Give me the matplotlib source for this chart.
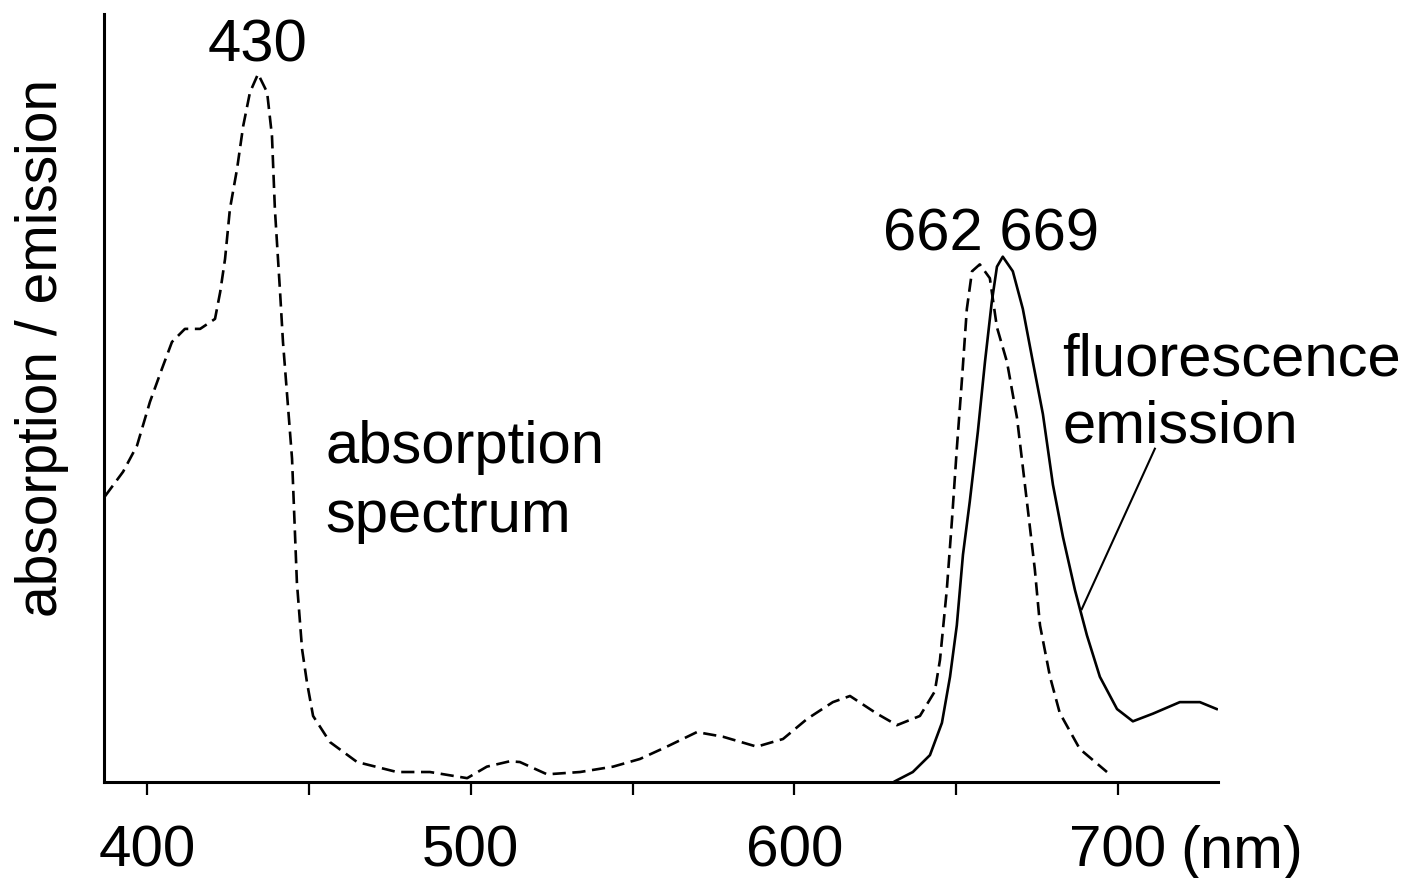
import matplotlib
matplotlib.use("Agg")
import matplotlib.pyplot as plt

# Absorption spectrum (wavelength nm, relative intensity 0-100)
abs_wl = [387.0, 392.6, 396.9, 400.9, 404.6, 407.7, 411.7, 416.4, 421.0, 422.6,
          424.1, 425.6, 427.8, 429.7, 431.8, 434.3, 437.1, 438.6, 439.5, 441.1,
          442.0, 443.2, 444.8, 446.3, 447.9, 449.4, 451.3, 456.5, 464.9, 477.2,
          487.4, 498.9, 505.0, 512.1, 515.2, 523.6, 533.8, 544.0, 552.3, 560.6,
          569.9, 577.9, 588.4, 596.5, 603.9, 611.9, 617.2, 625.5, 631.7, 638.8,
          643.4, 645.0, 647.1, 648.7, 650.2, 651.8, 653.3, 654.9, 657.3, 660.4,
          662.6, 665.7, 668.8, 670.6, 672.5, 674.3, 675.9, 679.0, 682.0, 688.2,
          696.6]
abs_val = [37.2, 40.4, 43.8, 49.5, 53.8, 57.3, 59.0, 59.0, 60.3, 63.8,
           68.1, 74.6, 79.8, 85.4, 89.8, 92.2, 89.8, 84.1, 74.6, 63.8,
           57.3, 50.8, 42.1, 26.0, 17.3, 13.0, 8.6, 5.2, 2.6, 1.3,
           1.3, 0.5, 2.0, 2.7, 2.6, 1.0, 1.3, 2.0, 3.0, 4.6,
           6.5, 5.9, 4.6, 5.6, 8.2, 10.4, 11.2, 8.9, 7.4, 8.6,
           11.8, 15.9, 25.0, 34.1, 43.4, 52.5, 61.6, 66.5, 67.4, 65.6,
           59.2, 54.7, 47.4, 41.0, 34.2, 27.7, 20.4, 13.7, 9.0, 4.3,
           1.3]

# Fluorescence emission spectrum
fl_wl = [631.1, 636.6, 641.9, 645.6, 648.1, 650.2, 652.1, 654.2, 656.7, 658.9,
         661.0, 662.6, 664.4, 667.5, 670.6, 673.7, 676.8, 679.9, 683.0, 686.7,
         690.4, 694.4, 699.7, 704.6, 710.8, 719.1, 725.3, 730.5]
fl_val = [0.1, 1.3, 3.5, 7.7, 13.7, 20.4, 29.6, 36.5, 45.6, 54.7,
          62.5, 67.1, 68.4, 66.5, 61.6, 54.7, 47.9, 38.7, 31.9, 25.0,
          19.1, 13.7, 9.5, 7.9, 8.9, 10.4, 10.4, 9.5]

tick_pos = [400, 450, 500, 550, 600, 650, 700]
tick_labels = ["400", "", "500", "", "600", "", "700"]

FONT = "Liberation Sans"
plt.rcParams["font.family"] = [FONT, "DejaVu Sans"]

fig = plt.figure(figsize=(14.14, 8.79), dpi=100)
ax = fig.add_axes([104 / 1414, 96 / 879, (1218 - 104) / 1414, (783 - 15) / 879])

ax.plot(abs_wl, abs_val, color="black", lw=1.9, linestyle=(0, (5, 2.5)))
ax.plot(fl_wl, fl_val, color="black", lw=1.9)

# leader line for fluorescence label
ax.plot([711.4, 688.8], [43.4, 22.5], color="black", lw=1.5)

ax.set_xlim(386.7, 730.9)
ax.set_ylim(0, 100)
ax.spines["top"].set_visible(False)
ax.spines["right"].set_visible(False)
for s in ("left", "bottom"):
    ax.spines[s].set_linewidth(2.2)
ax.set_yticks([])
ax.set_xticks(tick_pos)
ax.set_xticklabels(tick_labels)
ax.tick_params(axis="x", length=9, width=1.6, pad=21, labelsize=42)

ax.annotate("(nm)", xy=(719.1, 0), xycoords=("data", "axes fraction"),
            xytext=(0, -30), textcoords="offset points", ha="left", va="top",
            fontsize=43, annotation_clip=False)

ax.text(434.0, 93.9, "430", ha="center", va="baseline", fontsize=43)
ax.text(627.4, 69.4, "662 669", ha="left", va="baseline", fontsize=43)
ax.text(455.0, 47.3, "absorption\nspectrum", ha="left", va="top", fontsize=43,
        linespacing=1.33)
ax.text(682.7, 58.7, "fluorescence\nemission", ha="left", va="top", fontsize=43,
        linespacing=1.28)

fig.text(42 / 1414, (879 - 348) / 879, "absorption / emission", rotation=90,
         ha="center", va="center", fontsize=41)

fig.savefig("out.png", dpi=100)
